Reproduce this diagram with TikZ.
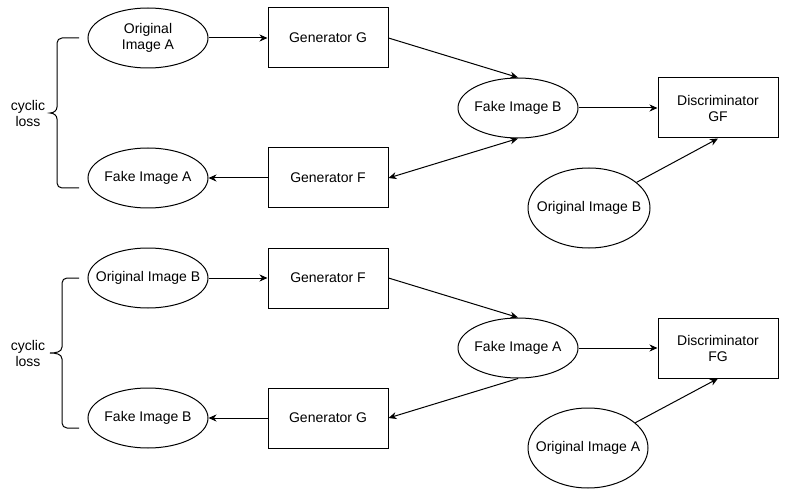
\documentclass[tikz,border=0pt]{standalone}
\usepackage{fontspec}
\setmainfont{Liberation Sans}
\usetikzlibrary{shapes.geometric,arrows.meta}
\newcommand\zw[1]{\makebox[0pt]{#1}}
\begin{document}
\begin{tikzpicture}[x=1pt,y=-1pt,
  every node/.style={font=\fontsize{14}{16}\selectfont},
  ell/.style={ellipse,draw,line width=1pt,minimum width=120,minimum height=60,inner sep=0pt,align=center},
  bigell/.style={ell,minimum height=80},
  box/.style={rectangle,draw,line width=1pt,minimum width=120,minimum height=60,inner sep=0pt,align=center},
  conn/.style={line width=1pt,-{Stealth[length=8pt,width=7pt,inset=2.5pt]}},
  dconn/.style={line width=1pt,{Stealth[length=8pt,width=7pt,inset=2.5pt]}-{Stealth[length=8pt,width=7pt,inset=2.5pt]}},
  brc/.style={line width=1pt}]
\path[use as bounding box] (0,0) rectangle (787,497);
% top half
\node[ell] (origA) at (148,38) {Original\\Image A};
\node[box] (genG) at (328,38) {Generator G};
\node[ell] (fakeB) at (518,108) {\zw{Fake Image B}};
\node[box] (discGF) at (718,108) {Discriminator\\GF};
\node[bigell,minimum width=122] (origB) at (589,208) {\zw{Original Image B}};
\node[box] (genF) at (328,178) {Generator F};
\node[ell] (fakeA) at (148,178) {\zw{Fake Image A}};
\node (cl1) at (28,113) [align=center] {cyclic\\loss};
\draw[brc] (79,38) -- (62,38) to[out=180,in=90] (57,43) -- (57,107) to[out=-90,in=0] (50,113)
  to[out=0,in=90] (57,119) -- (57,183) to[out=-90,in=180] (62,188) -- (79,188);
\draw[conn] (origA) -- (genG);
\draw[conn] (genG.east) -- (fakeB.north);
\draw[conn] (fakeB) -- (discGF);
\draw[conn] (origB) -- (discGF.south);
\draw[dconn] (fakeB.south) -- (genF.east);
\draw[conn] (genF) -- (fakeA);
% bottom half
\node[ell] (origB2) at (148,278) {\zw{Original Image B}};
\node[box] (genF2) at (328,278) {Generator F};
\node[ell] (fakeA2) at (518,348) {\zw{Fake Image A}};
\node[box] (discFG) at (718,348) {Discriminator\\FG};
\node[bigell] (origA2) at (588,448) {\zw{Original Image A}};
\node[box] (genG2) at (328,418) {Generator G};
\node[ell] (fakeB2) at (148,418) {\zw{Fake Image B}};
\node (cl2) at (28,353) [align=center] {cyclic\\loss};
\draw[brc] (79,278) -- (67,278) to[out=180,in=90] (62,283) -- (62,347) to[out=-90,in=0] (50,353)
  to[out=0,in=90] (62,359) -- (62,423) to[out=-90,in=180] (67,428) -- (79,428);
\draw[conn] (origB2) -- (genF2);
\draw[conn] (genF2.east) -- (fakeA2.north);
\draw[conn] (fakeA2) -- (discFG);
\draw[conn] (origA2) -- (discFG.south);
\draw[conn] (fakeA2.south) -- (genG2.east);
\draw[conn] (genG2) -- (fakeB2);
\end{tikzpicture}
\end{document}
